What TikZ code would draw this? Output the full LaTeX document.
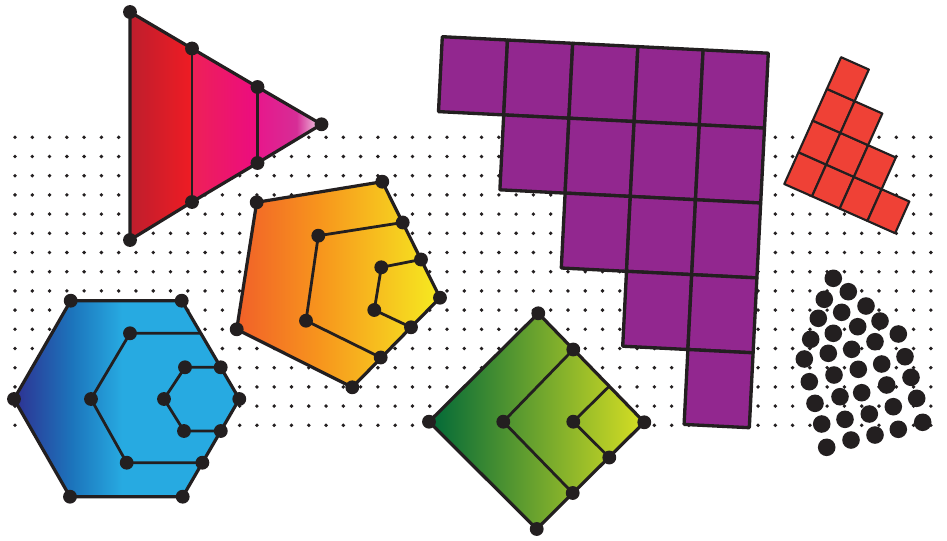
\documentclass[tikz,border=0pt]{standalone}
\definecolor{ink}{RGB}{35,31,32}
\definecolor{grape}{RGB}{146,39,143}
\definecolor{brick}{RGB}{239,65,54}
\definecolor{trdark}{RGB}{190,30,45}
\definecolor{trred}{RGB}{237,28,36}
\definecolor{trrose}{RGB}{238,32,88}
\definecolor{trmag}{RGB}{236,12,128}
\definecolor{trmagb}{RGB}{230,25,140}
\definecolor{trplum}{RGB}{214,45,150}
\definecolor{trpale}{RGB}{242,218,234}
\definecolor{pnred}{RGB}{241,96,41}
\definecolor{pnorange}{RGB}{247,148,29}
\definecolor{pnyellow}{RGB}{246,235,32}
\definecolor{hxnavy}{RGB}{46,49,146}
\definecolor{hxblue}{RGB}{28,117,188}
\definecolor{hxsky}{RGB}{39,170,225}
\definecolor{dmgreen}{RGB}{0,104,56}
\definecolor{dmlime}{RGB}{215,223,35}
\pgfdeclarehorizontalshading{trishade}{100bp}{color(0bp)=(trdark); color(25bp)=(trdark);
  color(40.5bp)=(trred); color(41.5bp)=(trrose); color(58bp)=(trmag); color(59bp)=(trmagb);
  color(68.5bp)=(trplum); color(75bp)=(trpale); color(100bp)=(trpale)}
\pgfdeclarehorizontalshading{pentshade}{100bp}{color(0bp)=(pnred); color(25bp)=(pnred);
  color(45bp)=(pnorange); color(75bp)=(pnyellow); color(100bp)=(pnyellow)}
\pgfdeclarehorizontalshading{hexshade}{100bp}{color(0bp)=(hxnavy); color(25bp)=(hxnavy);
  color(38bp)=(hxblue); color(49bp)=(hxsky); color(100bp)=(hxsky)}
\tikzset{rim/.style={draw=ink,line width=2.4pt,line join=round},
  seam/.style={draw=ink,line width=2.1pt},
  slab/.style={draw=ink,line width=2.5pt,line join=round,fill=grape},
  tile/.style={draw=ink,line width=1.6pt,line join=round,fill=brick}}
\newcommand{\pinat}[1]{\fill[ink] (#1) circle[radius=5.2pt];}

\begin{document}
\begin{tikzpicture}[x=0.75pt,y=-0.75pt]
  \useasboundingbox (0,0) rectangle (947,540);
  % dot grid
  \foreach \i in {0,...,53}
    \foreach \j in {0,...,15}
      \fill[ink] ({15+17.28*\i},{137.3+19.2*\j}) circle[radius=1.45pt];

  % triangle
  \coordinate (t1) at (130,12);    \coordinate (t2) at (192,48.5);
  \coordinate (t3) at (257.5,87);  \coordinate (t4) at (321.5,124.3);
  \coordinate (t5) at (257.5,163); \coordinate (t6) at (192,202);
  \coordinate (t7) at (130,240);
  \shadedraw[rim,shading=trishade] (t1) -- (t2) -- (t3) -- (t4) -- (t5) -- (t6) -- (t7) -- cycle;
  \draw[seam] (t2) -- (t6) (t3) -- (t5);
  \foreach \k in {1,...,7} {\pinat{t\k}}

  % pentagon
  \coordinate (p1) at (256.7,202.3); \coordinate (p2) at (382.3,181.7);
  \coordinate (p3) at (440,297.7);   \coordinate (p4) at (352.3,387.3);
  \coordinate (p5) at (236.7,329.3);
  \coordinate (m1) at (402.7,222.5); \coordinate (m2) at (318.3,235.7);
  \coordinate (m3) at (306,320.7);   \coordinate (m4) at (380.7,357.5);
  \coordinate (n1) at (421,259.5);   \coordinate (n2) at (381.3,267.3);
  \coordinate (n3) at (374.3,310);   \coordinate (n4) at (411,327.3);
  \shadedraw[rim,shading=pentshade] (p1) -- (p2) -- (p3) -- (p4) -- (p5) -- cycle;
  \draw[seam] (m1) -- (m2) -- (m3) -- (m4);
  \draw[seam] (n1) -- (n2) -- (n3) -- (n4);
  \foreach \k in {1,...,5} {\pinat{p\k}}
  \foreach \k in {1,...,4} {\pinat{m\k} \pinat{n\k}}

  % hexagon
  \coordinate (h1) at (14,399);      \coordinate (h2) at (70.7,300.7);
  \coordinate (h3) at (181.7,300.7); \coordinate (h4) at (239.3,399);
  \coordinate (h5) at (182.7,496.7); \coordinate (h6) at (70,496.7);
  \coordinate (g1) at (200.8,333.3); \coordinate (g2) at (130,333.3);
  \coordinate (g3) at (91,399);      \coordinate (g4) at (126.7,462.7);
  \coordinate (g5) at (202.4,462.7);
  \coordinate (k1) at (220.7,367.3); \coordinate (k2) at (185,367.3);
  \coordinate (k3) at (164,399);     \coordinate (k4) at (184,431);
  \coordinate (k5) at (220.8,431);
  \shadedraw[rim,shading=hexshade] (h1) -- (h2) -- (h3) -- (h4) -- (h5) -- (h6) -- cycle;
  \draw[seam] (g1) -- (g2) -- (g3) -- (g4) -- (g5);
  \draw[seam] (k1) -- (k2) -- (k3) -- (k4) -- (k5);
  \foreach \k in {1,...,6} {\pinat{h\k}}
  \foreach \k in {2,...,5} {\pinat{g\k}}
  \foreach \k in {1,...,5} {\pinat{k\k}}

  % diamond
  \coordinate (d1) at (538.3,313.3); \coordinate (d2) at (644.3,422.3);
  \coordinate (d3) at (536.7,529);   \coordinate (d4) at (429,421.7);
  \coordinate (e1) at (573.3,349.5); \coordinate (e2) at (503.3,421.7);
  \coordinate (e3) at (572.7,493);
  \coordinate (f1) at (609,386.5);   \coordinate (f2) at (573.3,421.7);
  \coordinate (f3) at (609.3,457.5);
  \shadedraw[rim,left color=dmgreen,right color=dmlime] (d1) -- (d2) -- (d3) -- (d4) -- cycle;
  \draw[seam] (e1) -- (e2) -- (e3);
  \draw[seam] (f1) -- (f2) -- (f3);
  \foreach \k in {1,...,4} {\pinat{d\k}}
  \foreach \k in {1,...,3} {\pinat{e\k}}
  \pinat{f2} \pinat{f3}

  % purple staircase
  \begin{scope}[shift={(442.3,36.7)},x={(48.9pt,-2.475pt)},y={(-2.85pt,-56.175pt)}]
    \foreach \r in {0,...,4}
      \foreach \c in {\r,...,4}
        \draw[slab] (\c,\r) -- ++(1,0) -- ++(0,1) -- ++(-1,0) -- cycle;
  \end{scope}

  % red staircase
  \begin{scope}[shift={(784.3,184)},x={(20.78pt,-9.225pt)},y={(10.65pt,23.775pt)}]
    \foreach \r/\m in {0/3,1/2,2/1,3/0}
      \foreach \c in {0,...,\m}
        \draw[tile] (\c,\r) -- ++(1,0) -- ++(0,1) -- ++(-1,0) -- cycle;
  \end{scope}

  % disc cluster
  \foreach \px/\py in {833.3/278.3,848.3/291.7,824.3/299.3,866/306,841.7/312.3,818.3/318.3,
      880/321,857.7/326.7,833.3/333.3,810.7/339.3,898.3/334,875/341.7,851.7/349.3,828.3/353.3,
      804.3/359,905/356.7,881.7/364,858.3/369.3,834/375,809.3/381.7,911/377.3,886.7/385,
      861.7/392.7,840/396.7,815/403.3,916.7/398.3,893.3/406.7,869.3/414,845/419.3,821.7/424,
      922.7/422.3,898.3/429.3,875/435,851/440,826.7/447.3}
    \fill[ink] (\px,\py) circle[radius=6.6pt];
\end{tikzpicture}
\end{document}
